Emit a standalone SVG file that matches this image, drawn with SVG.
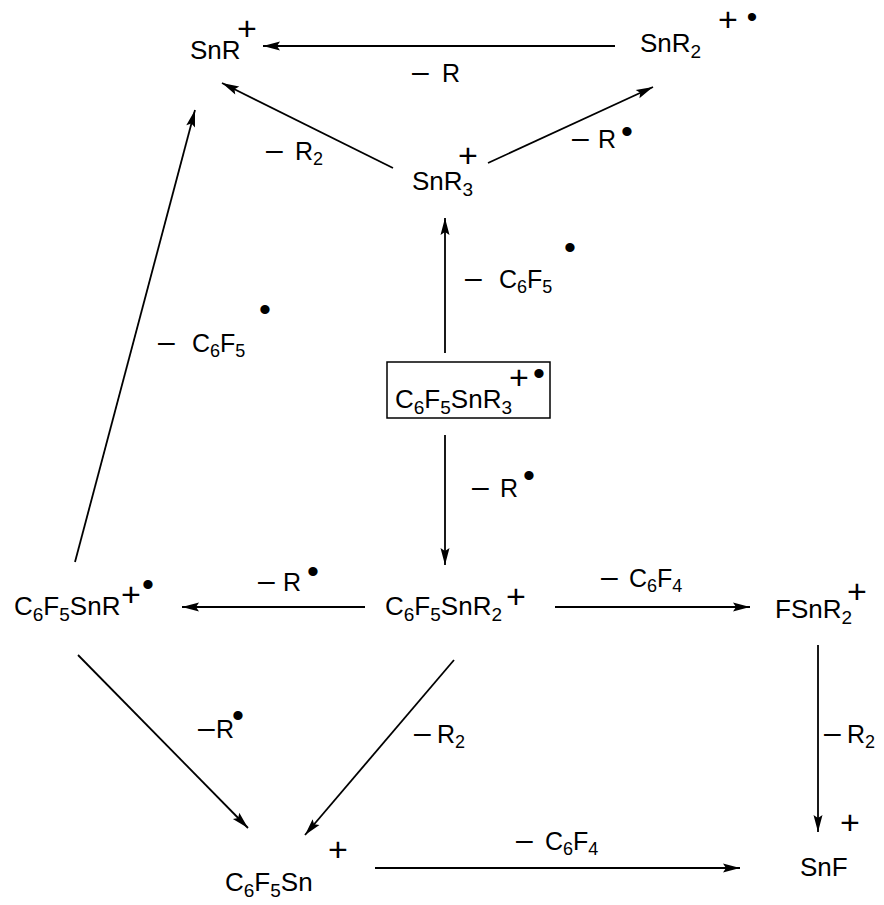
<svg xmlns="http://www.w3.org/2000/svg" width="884" height="905" viewBox="0 0 884 905">
<defs>
<style>
text{font-family:"Liberation Sans",Arial,Helvetica,sans-serif;fill:#000}
.n{font-size:26px}
.s{font-size:19px}
.l{font-size:25px}
.ls{font-size:18px}
.d{font-size:30px}
.p{font-size:34px;text-anchor:middle}
.r{font-size:34px;text-anchor:middle}
.e{stroke:#000;stroke-width:1.8;fill:none;marker-end:url(#ah)}
</style>
<marker id="ah" markerUnits="userSpaceOnUse" markerWidth="20" markerHeight="12" viewBox="-18 -6 20 12" refX="0" refY="0" orient="auto">
<path d="M0,0 L-17,-4.5 L-14,0 L-17,4.5 Z" fill="#000"/>
</marker>
</defs>
<rect width="884" height="905" fill="#fff"/>

<g id="connectors">
<line class="e" x1="615" y1="46" x2="263" y2="46"/>
<line class="e" x1="393" y1="168" x2="222" y2="83"/>
<line class="e" x1="488" y1="163" x2="653" y2="87"/>
<line class="e" x1="445" y1="353" x2="445" y2="218"/>
<line class="e" x1="75" y1="562" x2="195" y2="110"/>
<line class="e" x1="445" y1="435" x2="445" y2="565"/>
<line class="e" x1="365" y1="607" x2="182" y2="607"/>
<line class="e" x1="555" y1="607" x2="750" y2="607"/>
<line class="e" x1="78" y1="655" x2="248" y2="828"/>
<line class="e" x1="454" y1="660" x2="305" y2="835"/>
<line class="e" x1="375" y1="868" x2="740" y2="868"/>
<line class="e" x1="818" y1="645" x2="818" y2="832"/>
</g>

<g id="labels">
<text class="l" y="82"><tspan class="d" x="412">–</tspan><tspan x="442">R</tspan></text>
<text class="l" y="160"><tspan class="d" x="266">–</tspan><tspan x="295">R</tspan><tspan class="ls" dy="5">2</tspan></text>
<text class="l" y="148"><tspan class="d" x="572">–</tspan><tspan x="598">R</tspan></text>
<text class="r" x="627" y="143">•</text>
<text class="l" y="288"><tspan class="d" x="465">–</tspan><tspan x="499">C</tspan><tspan class="ls" dy="5">6</tspan><tspan dy="-5">F</tspan><tspan class="ls" dy="5">5</tspan></text>
<text class="r" x="570" y="259">•</text>
<text class="l" y="352"><tspan class="d" x="158">–</tspan><tspan x="192">C</tspan><tspan class="ls" dy="5">6</tspan><tspan dy="-5">F</tspan><tspan class="ls" dy="5">5</tspan></text>
<text class="r" x="265" y="321">•</text>
<text class="l" y="497"><tspan class="d" x="472">–</tspan><tspan x="500">R</tspan></text>
<text class="r" x="529" y="487">•</text>
<text class="l" y="591"><tspan class="d" x="258">–</tspan><tspan x="283">R</tspan></text>
<text class="r" x="313" y="583">•</text>
<text class="l" y="587"><tspan class="d" x="601">–</tspan><tspan x="629">C</tspan><tspan class="ls" dy="5">6</tspan><tspan dy="-5">F</tspan><tspan class="ls" dy="5">4</tspan></text>
<text class="l" y="743"><tspan class="d" x="414">–</tspan><tspan x="437">R</tspan><tspan class="ls" dy="5">2</tspan></text>
<text class="l" y="738"><tspan class="d" x="198">–</tspan><tspan x="216">R</tspan></text>
<text class="r" x="238" y="727">•</text>
<text class="l" y="850"><tspan class="d" x="516">–</tspan><tspan x="545">C</tspan><tspan class="ls" dy="5">6</tspan><tspan dy="-5">F</tspan><tspan class="ls" dy="5">4</tspan></text>
<text class="l" y="743"><tspan class="d" x="824">–</tspan><tspan x="847">R</tspan><tspan class="ls" dy="5">2</tspan></text>
</g>

<g id="SnR">
<text class="n" x="190" y="59">SnR</text>
<text class="p" x="247" y="40">+</text>
</g>

<g id="SnR2">
<text class="n" x="640" y="52">SnR<tspan class="s" dy="6">2</tspan></text>
<text class="p" x="728" y="31">+</text>
<text x="752" y="27" style="font-size:30px;text-anchor:middle">•</text>
</g>

<g id="SnR3">
<text class="n" x="412" y="190">SnR<tspan class="s" dy="6">3</tspan></text>
<text class="p" x="468" y="167">+</text>
</g>

<g id="C6F5SnR3">
<rect x="387" y="362" width="163" height="56" fill="none" stroke="#000" stroke-width="1.5"/>
<text class="n" x="395" y="408">C<tspan class="s" dy="6">6</tspan><tspan dy="-6">F</tspan><tspan class="s" dy="6">5</tspan><tspan dy="-6">SnR</tspan><tspan class="s" dy="6">3</tspan></text>
<text class="p" x="519" y="389">+</text>
<text class="r" x="539" y="385">•</text>
</g>

<g id="C6F5SnR2">
<text class="n" x="385" y="615">C<tspan class="s" dy="6">6</tspan><tspan dy="-6">F</tspan><tspan class="s" dy="6">5</tspan><tspan dy="-6">SnR</tspan><tspan class="s" dy="6">2</tspan></text>
<text class="p" x="516" y="608">+</text>
</g>

<g id="C6F5SnR">
<text class="n" x="14" y="615">C<tspan class="s" dy="6">6</tspan><tspan dy="-6">F</tspan><tspan class="s" dy="6">5</tspan><tspan dy="-6">SnR</tspan></text>
<text class="p" x="131" y="606">+</text>
<text class="r" x="148" y="596">•</text>
</g>

<g id="FSnR2">
<text class="n" x="775" y="618">FSnR<tspan class="s" dy="6">2</tspan></text>
<text class="p" x="857" y="603">+</text>
</g>

<g id="C6F5Sn">
<text class="n" x="225" y="891">C<tspan class="s" dy="6">6</tspan><tspan dy="-6">F</tspan><tspan class="s" dy="6">5</tspan><tspan dy="-6">Sn</tspan></text>
<text class="p" x="338" y="861">+</text>
</g>

<g id="SnF">
<text class="n" x="800" y="876">SnF</text>
<text class="p" x="850" y="834">+</text>
</g>
</svg>
